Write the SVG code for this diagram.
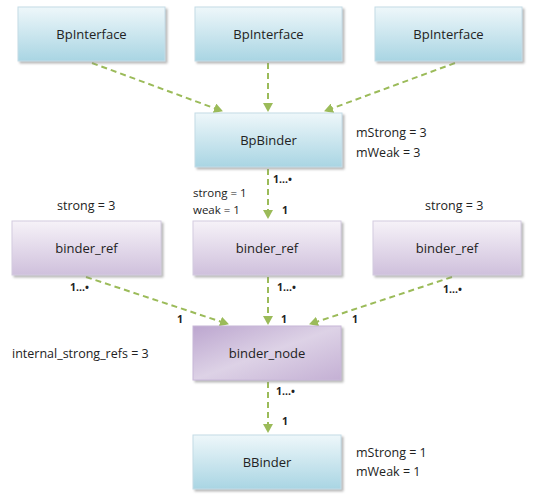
<svg xmlns="http://www.w3.org/2000/svg" width="537" height="499" viewBox="0 0 537 499">
<style>
.t{font-family:"Open Sans","Liberation Sans",sans-serif;font-size:12.5px;fill:#222;}
.t2{font-family:"Open Sans","Liberation Sans",sans-serif;font-size:11.5px;fill:#222;}
.n{font-family:"Open Sans","Liberation Sans",sans-serif;font-size:13px;fill:#222;text-anchor:middle;}
.s{font-family:"Open Sans","Liberation Sans",sans-serif;font-size:10.5px;fill:#222;font-weight:bold;}
.c{stroke:#9bbb59;stroke-width:2;stroke-dasharray:6,4;fill:none;marker-end:url(#ah);}
.bl{fill:url(#gb);stroke:#c4dbe6;stroke-width:1;filter:url(#sh);}
.pu{fill:url(#gp);stroke:#d4cce0;stroke-width:1;filter:url(#sh);}
.pd{fill:url(#gd);stroke:#c8b8d8;stroke-width:1;filter:url(#sh);}
</style>
<defs>
<linearGradient id="gb" x1="0" y1="0" x2="0" y2="1"><stop offset="0" stop-color="#eef7fa"/><stop offset="1" stop-color="#a9d5e3"/></linearGradient>
<linearGradient id="gp" x1="0" y1="0" x2="0" y2="1"><stop offset="0" stop-color="#f6f2f8"/><stop offset="1" stop-color="#cfc0dc"/></linearGradient>
<linearGradient id="gd" x1="0" y1="0" x2="1" y2="1"><stop offset="0" stop-color="#bca6cf"/><stop offset="0.5" stop-color="#ddd2e6"/><stop offset="1" stop-color="#c4b0d4"/></linearGradient>
<filter id="sh" x="-10%" y="-10%" width="125%" height="130%"><feDropShadow dx="2" dy="2" stdDeviation="1.2" flood-color="#888" flood-opacity="0.6"/></filter>
<marker id="ah" markerWidth="10" markerHeight="10" refX="8" refY="5" orient="auto" markerUnits="userSpaceOnUse"><path d="M0,0 L9,5 L0,10 z" fill="#9bbb59"/></marker>
</defs>
<rect width="537" height="499" fill="#fff"/>
<g id="connectors">
<line class="c" x1="92" y1="63" x2="222" y2="111"/>
<line class="c" x1="268" y1="63" x2="268" y2="111"/>
<line class="c" x1="455" y1="63" x2="325" y2="111"/>
<line class="c" x1="268" y1="169" x2="268" y2="218"/>
<line class="c" x1="86" y1="277" x2="228" y2="324"/>
<line class="c" x1="268" y1="277" x2="268" y2="324"/>
<line class="c" x1="452" y1="277" x2="310" y2="324"/>
<line class="c" x1="268" y1="382" x2="268" y2="432"/>
</g>
<g id="bpi1"><rect class="bl" x="18" y="7" width="147" height="54"/><text class="n" x="91.5" y="39">BpInterface</text></g>
<g id="bpi2"><rect class="bl" x="195" y="7" width="147" height="54"/><text class="n" x="268.5" y="39">BpInterface</text></g>
<g id="bpi3"><rect class="bl" x="375" y="7" width="147" height="54"/><text class="n" x="448.5" y="39">BpInterface</text></g>
<g id="bpbinder"><rect class="bl" x="195" y="113" width="147" height="54"/><text class="n" x="268.5" y="145">BpBinder</text>
<text class="t" x="356" y="137">mStrong = 3</text><text class="t" x="356" y="157">mWeak = 3</text></g>
<g id="ref1"><rect class="pu" x="12" y="221" width="149" height="54"/><text class="n" x="86.5" y="253">binder_ref</text><text class="t" x="57" y="210">strong = 3</text></g>
<g id="ref2"><rect class="pu" x="193" y="221" width="148" height="54"/><text class="n" x="267" y="253">binder_ref</text><text class="t2" x="193" y="197">strong = 1</text><text class="t2" x="193" y="214">weak = 1</text></g>
<g id="ref3"><rect class="pu" x="373" y="221" width="148" height="54"/><text class="n" x="447" y="253">binder_ref</text><text class="t" x="425" y="210">strong = 3</text></g>
<g id="node"><rect class="pd" x="193" y="326" width="148" height="54"/><text class="n" x="267" y="358">binder_node</text><text class="t" x="12" y="358">internal_strong_refs = 3</text></g>
<g id="bbinder"><rect class="bl" x="193" y="435" width="148" height="54"/><text class="n" x="267" y="467">BBinder</text>
<text class="t" x="356" y="457">mStrong = 1</text><text class="t" x="356" y="476">mWeak = 1</text></g>
<g id="labels">
<text class="s" x="273" y="183">1...•</text><text class="s" x="282" y="214">1</text>
<text class="s" x="70" y="291">1...•</text><text class="s" x="177" y="323">1</text>
<text class="s" x="277" y="291">1...•</text><text class="s" x="281" y="323">1</text>
<text class="s" x="443" y="293">1...•</text><text class="s" x="352" y="323">1</text>
<text class="s" x="276" y="395">1...•</text><text class="s" x="282" y="425">1</text>
</g>
</svg>
